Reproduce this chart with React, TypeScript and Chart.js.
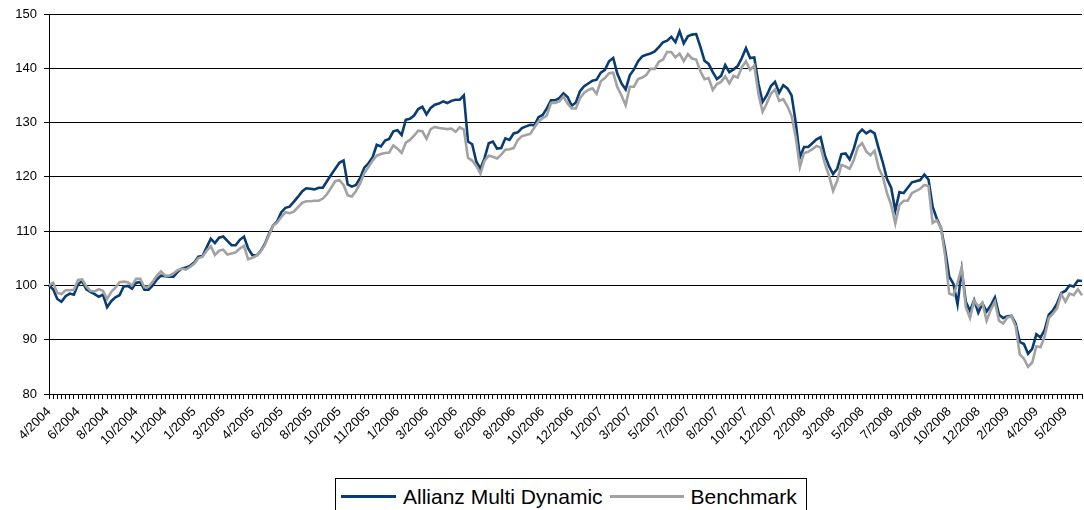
import { useEffect, useRef } from "react";
import { Chart, registerables } from "chart.js";

Chart.register(...registerables);

const tickLabels = [
  "4/2004", "6/2004", "8/2004", "10/2004", "11/2004", "1/2005", "3/2005", "4/2005", "6/2005",
  "8/2005", "10/2005", "11/2005", "1/2006", "3/2006", "5/2006", "6/2006", "8/2006", "10/2006",
  "12/2006", "1/2007", "3/2007", "5/2007", "7/2007", "8/2007", "10/2007", "12/2007", "2/2008",
  "3/2008", "5/2008", "7/2008", "9/2008", "10/2008", "12/2008", "2/2009", "4/2009", "5/2009",
];
const pointsPerLabel = 7;

const allianz = [
  100.0, 99.3, 97.5, 97.0, 98.0, 98.5, 98.3, 100.2, 100.8, 99.3,
  98.8, 98.4, 97.9, 98.3, 96.0, 97.1, 97.8, 98.2, 99.8, 99.9,
  99.4, 100.5, 100.6, 99.2, 99.2, 100.0, 101.1, 101.8, 101.7, 101.6,
  101.6, 102.5, 103.1, 103.3, 103.6, 104.2, 105.3, 105.4, 107.0, 108.6,
  107.8, 108.8, 109.0, 108.2, 107.4, 107.4, 108.4, 109.0, 106.8, 105.6,
  105.5, 106.3, 107.6, 109.4, 111.0, 111.8, 113.5, 114.3, 114.5, 115.4,
  116.3, 117.3, 117.9, 117.8, 117.7, 118.0, 118.0, 119.2, 120.4, 121.5,
  122.6, 123.0, 118.6, 118.2, 118.5, 119.8, 121.7, 122.5, 123.6, 125.9,
  125.6, 126.7, 127.0, 128.4, 128.6, 127.7, 130.5, 130.7, 131.3, 132.5,
  132.9, 131.5, 132.7, 133.3, 133.5, 133.9, 133.6, 134.0, 134.2, 134.2,
  135.0, 126.5, 126.0, 122.8, 121.5, 123.5, 126.2, 126.5, 125.2, 125.3,
  127.1, 126.8, 128.0, 128.2, 129.0, 129.3, 129.6, 129.5, 131.0, 131.4,
  132.6, 134.1, 134.1, 134.5, 135.4, 134.7, 133.1, 133.7, 135.8, 136.7,
  137.2, 137.7, 137.9, 139.2, 139.7, 141.3, 141.9, 139.0, 137.2, 136.1,
  138.7, 139.8, 141.3, 142.2, 142.5, 142.7, 143.1, 143.9, 144.8, 145.1,
  145.8, 144.8, 146.8, 144.6, 145.9, 146.2, 146.3, 144.0, 141.4, 140.8,
  139.3, 138.0, 138.6, 140.6, 139.3, 139.8, 140.4, 141.9, 143.7, 141.9,
  142.0, 137.2, 133.8, 135.0, 136.7, 137.5, 135.5, 136.9, 136.3, 135.0,
  130.0, 123.6, 125.5, 125.5, 126.2, 126.9, 127.3, 124.0, 122.0, 120.5,
  121.5, 124.2, 124.3, 123.2, 125.2, 127.9, 128.7, 128.0, 128.5, 128.0,
  125.2, 122.6, 119.6, 118.0, 113.8, 117.2, 117.0, 118.0, 119.0, 119.2,
  119.4, 120.4, 119.5, 114.5, 112.3, 110.6, 106.6, 101.6, 100.3, 96.5,
  102.8, 97.0, 95.3, 97.3, 95.0, 96.7, 95.2, 96.3, 97.8, 94.6,
  94.0, 94.3, 94.4, 93.0, 89.6, 89.2, 87.4, 88.3, 91.0, 90.4,
  91.8, 94.6, 95.4, 96.7, 98.6, 99.0, 100.0, 99.8, 100.9, 100.8,
];

const benchmark = [
  100.0, 100.5, 98.6, 98.4, 99.1, 99.1, 99.2, 101.0, 101.1, 99.8,
  99.0, 98.9, 99.3, 99.0, 97.5, 98.8, 99.6, 100.6, 100.7, 100.6,
  100.0, 101.2, 101.2, 99.7, 99.8, 100.7, 101.8, 102.6, 101.8, 101.8,
  102.2, 102.8, 103.1, 102.9, 103.4, 104.0, 105.0, 105.3, 106.4, 107.2,
  105.6, 106.4, 106.6, 105.7, 105.9, 106.1, 106.8, 107.3, 104.8, 105.1,
  105.5, 106.2, 107.4, 109.2, 111.0, 111.6, 112.6, 113.5, 113.3, 113.6,
  114.4, 115.2, 115.5, 115.5, 115.6, 115.6, 116.0, 116.8, 118.0, 119.2,
  119.4, 118.5, 116.6, 116.4, 117.4, 118.8, 120.7, 121.8, 123.0, 123.9,
  124.2, 124.4, 124.5, 125.8, 125.2, 124.4, 126.3, 126.8, 127.6, 128.5,
  128.4, 127.0, 128.8, 129.2, 129.0, 128.9, 128.8, 128.9, 128.3, 129.1,
  128.7, 123.5, 123.0, 122.0, 120.6, 123.0, 123.9, 123.7, 123.4, 124.1,
  125.0, 125.1, 125.3, 126.8, 127.5, 127.7, 127.9, 129.1, 130.2, 130.8,
  131.3, 133.6, 133.6, 133.9, 134.8, 133.5, 132.6, 132.6, 134.5, 135.5,
  136.0, 136.3, 135.3, 137.6, 138.2, 139.1, 139.2, 136.5, 135.0, 133.2,
  136.6, 136.6, 138.0, 138.3, 138.8, 139.9, 139.9, 141.2, 141.6, 143.0,
  143.0, 142.0, 142.7, 141.3, 142.6, 141.8, 141.6, 139.5, 138.0, 138.2,
  136.0, 137.1, 137.5, 138.5, 137.2, 138.6, 138.3, 140.2, 141.3, 139.7,
  140.5, 135.3, 132.0, 133.5, 135.3, 136.1, 134.0, 134.3, 133.0, 131.2,
  127.3, 121.8, 124.4, 124.6, 125.1, 125.7, 125.4, 122.5, 120.3, 117.4,
  119.3, 122.2, 121.9, 121.5, 123.1, 125.5, 126.2, 124.7, 124.0, 124.8,
  121.6, 120.0, 117.0, 114.8, 111.4, 114.8, 115.6, 115.6, 117.0, 117.4,
  117.8, 118.5, 118.3, 111.5, 112.0, 110.6, 105.5, 98.5, 98.2, 100.5,
  103.3, 96.0, 94.0, 97.2, 96.1, 96.8, 93.5, 95.5, 97.0, 93.5,
  93.0, 94.1, 94.3, 92.5, 87.3, 86.5, 85.0, 85.8, 88.8, 88.6,
  90.6, 94.0, 94.8, 95.8, 98.4, 97.0, 98.5, 98.2, 99.3, 98.2,
];

const categories = allianz.map((_, i) =>
  i % pointsPerLabel === 0 && tickLabels[i / pointsPerLabel] ? tickLabels[i / pointsPerLabel] : ""
);

const FONT = '"Liberation Sans", Arial, Helvetica, sans-serif';
const BLUE = "#083c72";
const GRAY = "#a2a2a2";

export default function App() {
  const ref = useRef<HTMLCanvasElement | null>(null);

  useEffect(() => {
    if (!ref.current) return;
    const chart = new Chart(ref.current, {
      type: "line",
      data: {
        labels: categories,
        datasets: [
          {
            label: "Allianz Multi Dynamic",
            data: allianz,
            borderColor: BLUE,
            backgroundColor: BLUE,
            borderWidth: 2.6,
            pointRadius: 0,
            tension: 0,
            order: 1,
          },
          {
            label: "Benchmark",
            data: benchmark,
            borderColor: GRAY,
            backgroundColor: GRAY,
            borderWidth: 2.6,
            pointRadius: 0,
            tension: 0,
            order: 0,
          },
        ],
      },
      options: {
        responsive: false,
        animation: false,
        events: [],
        layout: { padding: { top: 14, right: 2, left: 0, bottom: 0 } },
        plugins: { legend: { display: false }, tooltip: { enabled: false } },
        scales: {
          x: {
            type: "category",
            offset: false,
            grid: { display: true, drawOnChartArea: false, drawTicks: true, tickLength: 5, color: "#000", lineWidth: 1 },
            border: { display: true, color: "#000", width: 1 },
            ticks: {
              autoSkip: false,
              maxRotation: 45,
              minRotation: 45,
              padding: 5,
              color: "#000",
              font: { family: FONT, size: 13 },
            },
            afterFit: (s: any) => {
              s.height = 76;
              s.paddingLeft = 0;
              s.paddingRight = 0;
            },
          },
          y: {
            min: 80,
            max: 150,
            grid: { color: "#000", lineWidth: 1, tickLength: 5, drawTicks: true },
            border: { display: true, color: "#000", width: 1 },
            ticks: {
              stepSize: 10,
              padding: 7,
              color: "#000",
              font: { family: FONT, size: 13 },
            },
            afterFit: (s: any) => {
              s.width = 49;
              s.paddingTop = 0;
              s.paddingBottom = 0;
            },
          },
        },
      },
    });
    return () => chart.destroy();
  }, []);

  return (
    <div style={{ position: "absolute", left: 0, top: 0, width: 1084, height: 510, background: "#fff", overflow: "hidden" }}>
      <canvas ref={ref} width={1084} height={470} style={{ display: "block", width: 1084, height: 470 }} />
      <div
        style={{
          position: "absolute",
          left: 335,
          top: 478,
          width: 472,
          height: 44,
          boxSizing: "border-box",
          border: "1px solid #000",
          display: "flex",
          alignItems: "flex-start",
          paddingTop: 6,
          fontFamily: FONT,
          fontSize: 21,
          color: "#000",
          whiteSpace: "nowrap",
        }}
      >
        <span style={{ display: "inline-block", width: 55, height: 3, background: BLUE, marginLeft: 5, marginTop: 10 }} />
        <span style={{ marginLeft: 7, lineHeight: "24px" }}>Allianz Multi Dynamic</span>
        <span style={{ display: "inline-block", width: 74, height: 3, background: GRAY, marginLeft: 7, marginTop: 10 }} />
        <span style={{ marginLeft: 7, lineHeight: "24px" }}>Benchmark</span>
      </div>
    </div>
  );
}
